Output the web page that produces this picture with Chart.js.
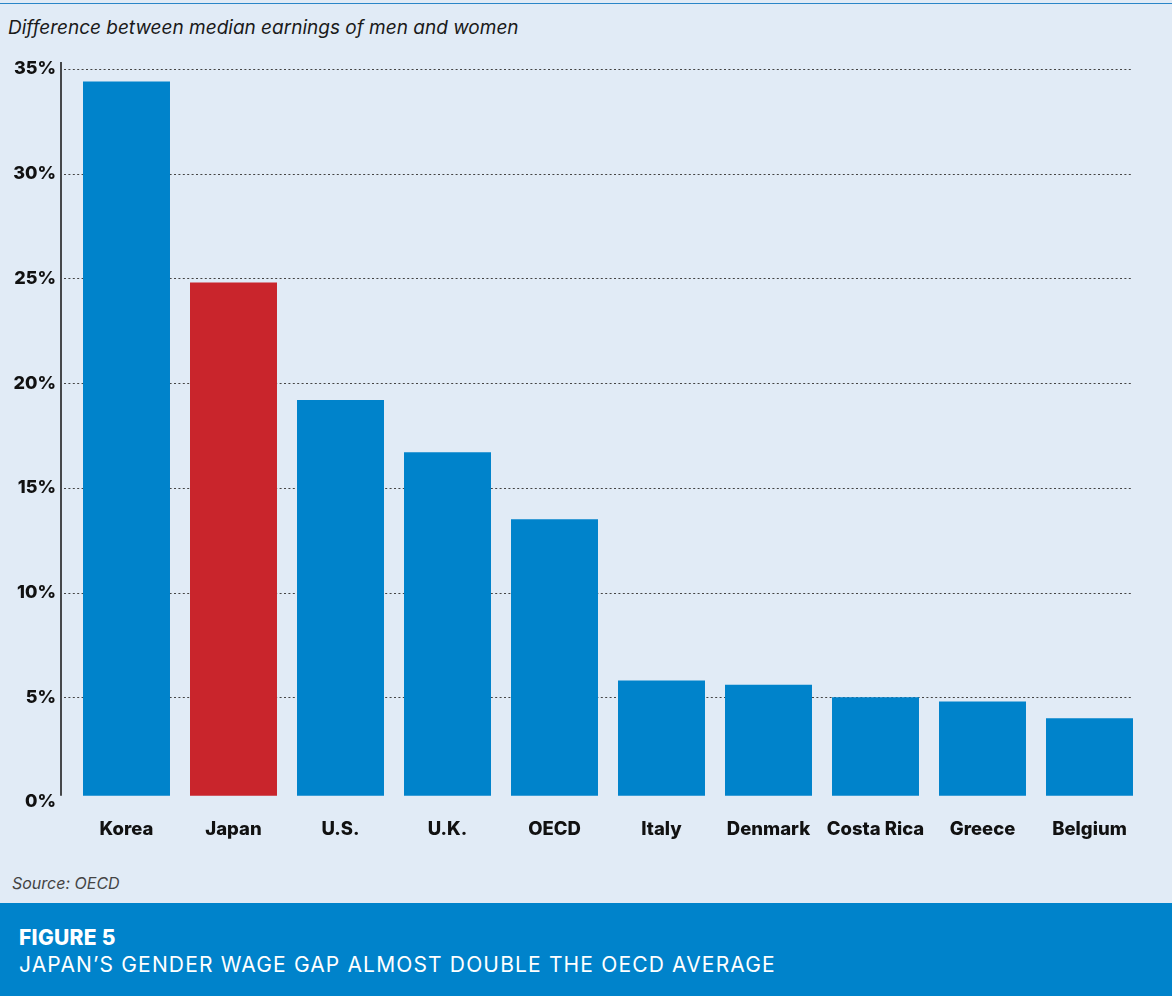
<!DOCTYPE html>
<html>
<head>
<meta charset="utf-8">
<script src="https://cdn.jsdelivr.net/npm/chart.js@4"></script>
<style>
  html, body { margin: 0; padding: 0; }
  body { width: 1172px; height: 996px; background: #e1ebf6; position: relative; overflow: hidden; font-family: Inter, "Open Sans", sans-serif; }
  #topline { position: absolute; left: 0; top: 3px; width: 1172px; height: 1px; background: #2a86c8; }
  #title { position: absolute; left: 8px; top: 16px; font-size: 19px; font-style: italic; color: #1a1a1a; }
  #wrap { position: absolute; left: 0; top: 0; width: 1172px; height: 860px; }
  #source { position: absolute; left: 12px; top: 873px; font-size: 16px; font-style: italic; color: #444; }
  #band { position: absolute; left: 0; top: 903px; width: 1172px; height: 93px; background: #0083cb; color: #fff; }
  #fig { position: absolute; left: 19px; top: 22px; font-size: 21px; font-weight: 800; letter-spacing: 0.3px; }
  #sub { position: absolute; left: 19px; top: 49px; font-size: 21px; letter-spacing: 1.15px; }
</style>
</head>
<body>
<div id="topline"></div>
<div id="title">Difference between median earnings of men and women</div>
<div id="wrap"><canvas id="gapChart"></canvas></div>
<div id="source">Source: OECD</div>
<div id="band">
  <div id="fig">FIGURE 5</div>
  <div id="sub">JAPAN’S GENDER WAGE GAP ALMOST DOUBLE THE OECD AVERAGE</div>
</div>
<script>
// data (percent)
const countries = ['Korea', 'Japan', 'U.S.', 'U.K.', 'OECD', 'Italy', 'Denmark', 'Costa Rica', 'Greece', 'Belgium'];
const wageGap = [34.4, 24.8, 19.2, 16.7, 13.5, 5.8, 5.6, 5.0, 4.8, 4.0];
const yTicks = [0, 5, 10, 15, 20, 25, 30, 35];

const blue = '#0083cb';
const red = '#c9252c';
const barColors = countries.map(c => c === 'Japan' ? red : blue);

// dotted grid lines + left axis line
const gridPlugin = {
    id: 'dottedGrid',
    beforeDatasetsDraw(chart) {
        const ctx = chart.ctx;
        const y = chart.scales.y;
        ctx.save();
        ctx.strokeStyle = '#444';
        ctx.lineWidth = 1;
        ctx.setLineDash([2, 2.4]);
        yTicks.forEach(v => {
            if (v === 0) return;
            const py = Math.round(y.getPixelForValue(v)) + 0.5;
            ctx.beginPath();
            ctx.moveTo(64, py);
            ctx.lineTo(1133, py);
            ctx.stroke();
        });
        ctx.setLineDash([]);
        ctx.strokeStyle = '#111';
        ctx.lineWidth = 1.5;
        ctx.beginPath();
        ctx.moveTo(61, y.getPixelForValue(35) - 7);
        ctx.lineTo(61, y.getPixelForValue(0.3));
        ctx.stroke();
        ctx.restore();
    }
};

const ctx = document.getElementById('gapChart').getContext('2d');
new Chart(ctx, {
    type: 'bar',
    data: {
        labels: countries,
        datasets: [{
            data: wageGap,
            backgroundColor: barColors,
            borderWidth: 0,
            base: 0.3,
            categoryPercentage: 1,
            barPercentage: 0.813
        }]
    },
    options: {
        responsive: true,
        maintainAspectRatio: false,
        animation: false,
        layout: { padding: { top: 69, right: 29, left: 0, bottom: 0 } },
        plugins: {
            legend: { display: false },
            tooltip: { enabled: false }
        },
        scales: {
            x: {
                grid: { display: false },
                border: { display: false },
                ticks: {
                    color: '#111',
                    padding: 8,
                    maxRotation: 0,
                    font: { family: 'Inter', size: 18.5, weight: 800 }
                },
                afterFit: s => { s.height = 58; }
            },
            y: {
                min: 0,
                max: 35,
                grid: { display: false },
                border: { display: false },
                ticks: {
                    stepSize: 5,
                    color: '#111',
                    padding: 9,
                    font: { family: 'Inter', size: 18, weight: 800 },
                    callback: v => v + '%'
                },
                afterFit: s => { s.width = 73; }
            }
        }
    },
    plugins: [gridPlugin]
});
</script>
</body>
</html>
